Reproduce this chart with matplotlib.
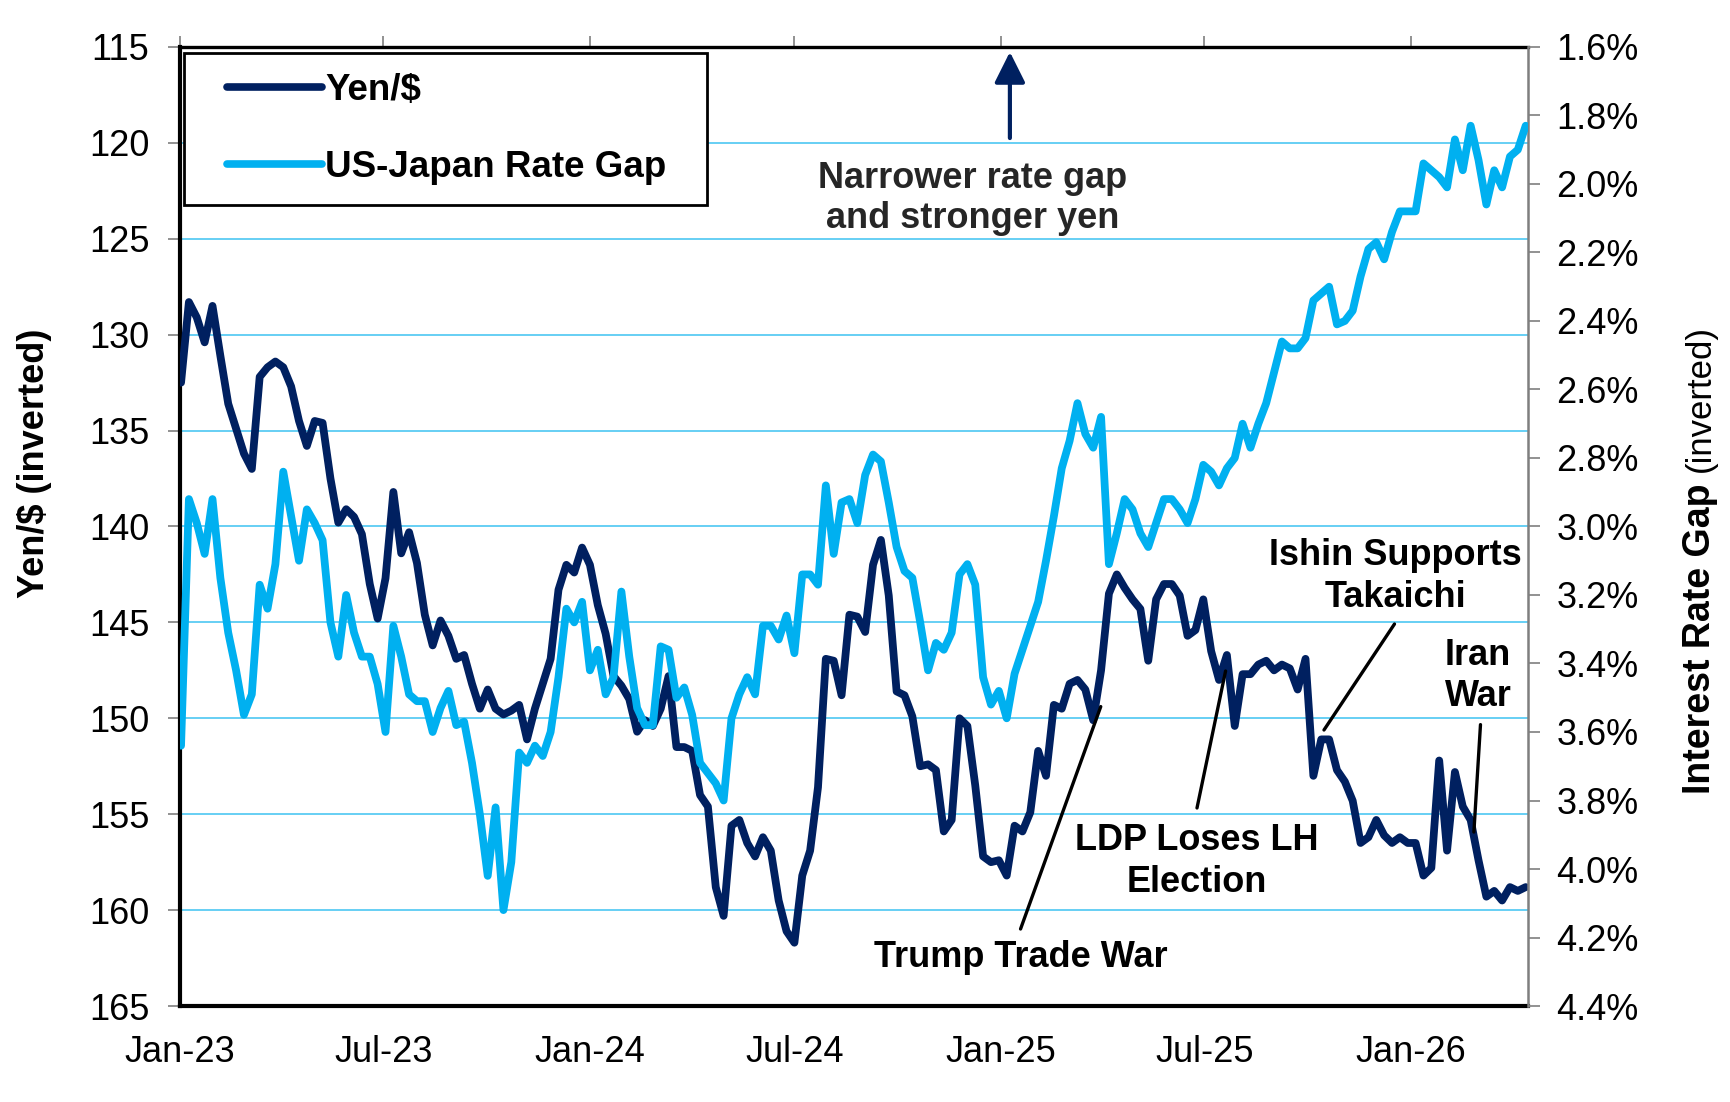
import matplotlib
matplotlib.use('Agg')
import matplotlib.pyplot as plt
import matplotlib.dates as mdates
from matplotlib.legend_handler import HandlerLine2D
import pandas as pd

plt.rcParams['font.family'] = ['Liberation Sans', 'DejaVu Sans']

# ---------------- data (weekly readings) ----------------
first_week = '2023-01-02'

yen_per_usd = [
    132.5, 128.3, 129.1, 130.4, 128.5, 131.1, 133.6, 134.9, 136.2, 137.0,
    132.2, 131.7, 131.4, 131.7, 132.7, 134.5, 135.8, 134.5, 134.6, 137.5,
    139.8, 139.1, 139.5, 140.4, 143.0, 144.8, 142.7, 138.2, 141.4, 140.3,
    141.9, 144.6, 146.2, 144.9, 145.7, 146.9, 146.7, 148.2, 149.5, 148.5,
    149.5, 149.8, 149.6, 149.3, 151.1, 149.5, 148.2, 146.9, 143.3, 142.0,
    142.4, 141.1, 142.0, 144.1, 145.6, 147.8, 148.3, 149.0, 150.7, 150.1,
    150.4, 149.5, 147.8, 151.5, 151.5, 151.7, 154.0, 154.6, 158.8, 160.3,
    155.6, 155.3, 156.5, 157.2, 156.2, 156.9, 159.5, 161.1, 161.7, 158.2,
    156.9, 153.6, 146.9, 147.0, 148.8, 144.6, 144.7, 145.5, 142.0, 140.7,
    143.6, 148.6, 148.8, 149.9, 152.5, 152.4, 152.7, 155.9, 155.3, 150.0,
    150.4, 153.5, 157.2, 157.5, 157.4, 158.2, 155.6, 155.9, 154.9, 151.7,
    153.0, 149.3, 149.5, 148.2, 148.0, 148.5, 150.1, 147.5, 143.5, 142.5,
    143.2, 143.8, 144.3, 147.0, 143.8, 143.0, 143.0, 143.6, 145.7, 145.4,
    143.8, 146.5, 148.0, 146.7, 150.4, 147.7, 147.7, 147.2, 147.0, 147.5,
    147.2, 147.4, 148.5, 146.9, 153.0, 151.1, 151.1, 152.7, 153.3, 154.3,
    156.5, 156.2, 155.3, 156.1, 156.5, 156.2, 156.5, 156.5, 158.2, 157.8,
    152.2, 156.9, 152.8, 154.6, 155.3, 157.4, 159.3, 159.0, 159.5, 158.8,
    159.0, 158.8,
]

rate_gap = [
    3.64, 2.92, 2.99, 3.08, 2.92, 3.15, 3.31, 3.42, 3.55, 3.49,
    3.17, 3.24, 3.11, 2.84, 2.97, 3.10, 2.95, 2.99, 3.04, 3.28,
    3.38, 3.20, 3.31, 3.38, 3.38, 3.46, 3.60, 3.29, 3.38, 3.49,
    3.51, 3.51, 3.60, 3.53, 3.48, 3.58, 3.57, 3.69, 3.84, 4.02,
    3.82, 4.12, 3.98, 3.66, 3.69, 3.64, 3.67, 3.60, 3.44, 3.24,
    3.28, 3.22, 3.42, 3.36, 3.49, 3.44, 3.19, 3.38, 3.53, 3.58,
    3.58, 3.35, 3.36, 3.50, 3.47, 3.55, 3.69, 3.72, 3.75, 3.80,
    3.56, 3.49, 3.44, 3.49, 3.29, 3.29, 3.33, 3.26, 3.37, 3.14,
    3.14, 3.17, 2.88, 3.08, 2.93, 2.92, 2.99, 2.85, 2.79, 2.81,
    2.93, 3.06, 3.13, 3.15, 3.28, 3.42, 3.34, 3.36, 3.31, 3.14,
    3.11, 3.17, 3.44, 3.52, 3.48, 3.56, 3.43, 3.36, 3.29, 3.22,
    3.10, 2.97, 2.83, 2.75, 2.64, 2.73, 2.77, 2.68, 3.11, 3.02,
    2.92, 2.95, 3.02, 3.06, 2.99, 2.92, 2.92, 2.95, 2.99, 2.92,
    2.82, 2.84, 2.88, 2.83, 2.80, 2.70, 2.77, 2.70, 2.64, 2.55,
    2.46, 2.48, 2.48, 2.45, 2.34, 2.32, 2.30, 2.41, 2.40, 2.37,
    2.27, 2.19, 2.17, 2.22, 2.14, 2.08, 2.08, 2.08, 1.94, 1.96,
    1.98, 2.01, 1.87, 1.96, 1.83, 1.93, 2.06, 1.96, 2.01, 1.92,
    1.90, 1.83,
]

yen_ticks = [115, 120, 125, 130, 135, 140, 145, 150, 155, 160, 165]
rate_ticks = [1.6, 1.8, 2.0, 2.2, 2.4, 2.6, 2.8, 3.0, 3.2, 3.4, 3.6, 3.8, 4.0, 4.2, 4.4]
x_start, x_end = '2023-01-01', '2026-04-15'

series_names = ['Yen/$', 'US-Japan Rate Gap']

dates = pd.date_range(first_week, periods=len(yen_per_usd), freq='7D')

# ---------------- style ----------------
NAVY = '#002060'
LIGHT = '#00B0F0'
GRID = '#3DC2F1'
TICKC = '#7f7f7f'
LW = 5.6

fig = plt.figure(figsize=(17.3, 11.02), dpi=100)
ax = fig.add_axes([0.1040, 0.0871, 0.7792, 0.8703])
ax2 = ax.twinx()

l1, = ax.plot(dates, yen_per_usd, color=NAVY, lw=LW, solid_joinstyle='round',
              solid_capstyle='round', label=series_names[0], zorder=3)
l2, = ax2.plot(dates, rate_gap, color=LIGHT, lw=LW, solid_joinstyle='round',
               solid_capstyle='round', label=series_names[1], zorder=3)

# axes ranges (both inverted)
ax.set_ylim(yen_ticks[-1], yen_ticks[0])
ax.set_yticks(yen_ticks)
ax.set_yticklabels([str(v) for v in yen_ticks])
ax2.set_ylim(rate_ticks[-1], rate_ticks[0])
ax2.set_yticks(rate_ticks)
ax2.set_yticklabels([f'{v:.1f}%' for v in rate_ticks])

ax.set_xlim(pd.Timestamp(x_start), pd.Timestamp(x_end))
ax.xaxis.set_major_locator(mdates.MonthLocator(bymonth=[1, 7]))
ax.xaxis.set_major_formatter(mdates.DateFormatter('%b-%y'))

# grid
ax.set_axisbelow(True)
ax.yaxis.grid(True, color=GRID, lw=1.1)
ax.xaxis.grid(False)

# ticks
ax.tick_params(axis='x', which='both', top=True, bottom=False, labeltop=False,
               labelbottom=True, direction='out', length=8, width=1.2,
               color=TICKC, labelsize=26, pad=13, labelcolor='black')
ax.tick_params(axis='y', direction='out', length=9, width=1.2, color=TICKC,
               labelsize=26, pad=13, labelcolor='black')
ax2.tick_params(axis='y', direction='out', length=8.6, width=1.2, color=TICKC,
                labelsize=26, pad=12, labelcolor='black')

# spines
for s in ['left', 'bottom']:
    ax.spines[s].set_color('black')
    ax.spines[s].set_linewidth(3.0)
ax.spines['top'].set_color('black')
ax.spines['top'].set_linewidth(2.4)
ax.spines['right'].set_visible(False)
for s in ['left', 'bottom', 'top']:
    ax2.spines[s].set_visible(False)
ax2.spines['right'].set_color(TICKC)
ax2.spines['right'].set_linewidth(1.8)

# legend
leg = ax2.legend(handles=[l1, l2], loc='upper left',
                 bbox_to_anchor=(0.003, 0.9937, 0.388, 0.0), mode='expand',
                 borderaxespad=0, frameon=True, fancybox=False,
                 edgecolor='black', framealpha=1,
                 prop={'size': 26.5, 'weight': 'bold'},
                 borderpad=0.54, labelspacing=1.15, handlelength=3.2,
                 handletextpad=0.1,
                 handler_map={l1: HandlerLine2D(xpad=0.63),
                              l2: HandlerLine2D(xpad=0.63)})
leg.get_frame().set_linewidth(2.0)
for h in leg.get_lines():
    h.set_linewidth(5.5)
    h.set_solid_capstyle('round')
leg.set_zorder(10)

# annotations
tr = ax2.transAxes
ax2.annotate('', xy=(0.6157, 0.9948), xytext=(0.6157, 0.905),
             xycoords='axes fraction', textcoords='axes fraction',
             arrowprops=dict(arrowstyle='-|>,head_length=0.4,head_width=0.2',
                             mutation_scale=47, color=NAVY, lw=3,
                             shrinkA=0, shrinkB=0), zorder=6)
ax2.text(0.588, 0.8420, 'Narrower rate gap\nand stronger yen', transform=tr,
         ha='center', va='center', fontsize=26, fontweight='bold',
         color='#262626', linespacing=1.22, zorder=6)

def leader(p0, p1):
    ax2.annotate('', xy=p1, xytext=p0, xycoords='axes fraction',
                 textcoords='axes fraction',
                 arrowprops=dict(arrowstyle='-', color='black', lw=2.4,
                                 shrinkA=0, shrinkB=0), zorder=6)

ax2.text(0.6236, 0.0504, 'Trump Trade War', transform=tr, ha='center',
         va='center', fontsize=26, fontweight='bold', color='black', zorder=6)
leader((0.6236, 0.0803), (0.6831, 0.3122))

ax2.text(0.7545, 0.1510, 'LDP Loses LH\nElection', transform=tr, ha='center',
         va='center', fontsize=26, fontweight='bold', color='black',
         linespacing=1.25, zorder=6)
leader((0.7545, 0.2065), (0.7757, 0.3493))

ax2.text(0.9018, 0.4476, 'Ishin Supports\nTakaichi', transform=tr,
         ha='center', va='center', fontsize=26, fontweight='bold',
         color='black', linespacing=1.25, zorder=6)
leader((0.9010, 0.3983), (0.8487, 0.2878))

ax2.text(0.9629, 0.3440, 'Iran\nWar', transform=tr, ha='center', va='center',
         fontsize=26, fontweight='bold', color='black', linespacing=1.25,
         zorder=6)
leader((0.9648, 0.2934), (0.9599, 0.1814))

# axis titles
fig.text(35 / 1730, 1 - 463 / 1102, 'Yen/$ (inverted)', rotation=90,
         ha='center', va='center', fontsize=26, fontweight='bold')
fig.text(1700 / 1730, 1 - 794 / 1102, 'Interest Rate Gap', rotation=90,
         ha='center', va='bottom', fontsize=27, fontweight='bold')
fig.text(1700 / 1730, 1 - 472 / 1102, '(inverted)', rotation=90,
         ha='center', va='bottom', fontsize=25)

fig.savefig('out.png', dpi=100)
